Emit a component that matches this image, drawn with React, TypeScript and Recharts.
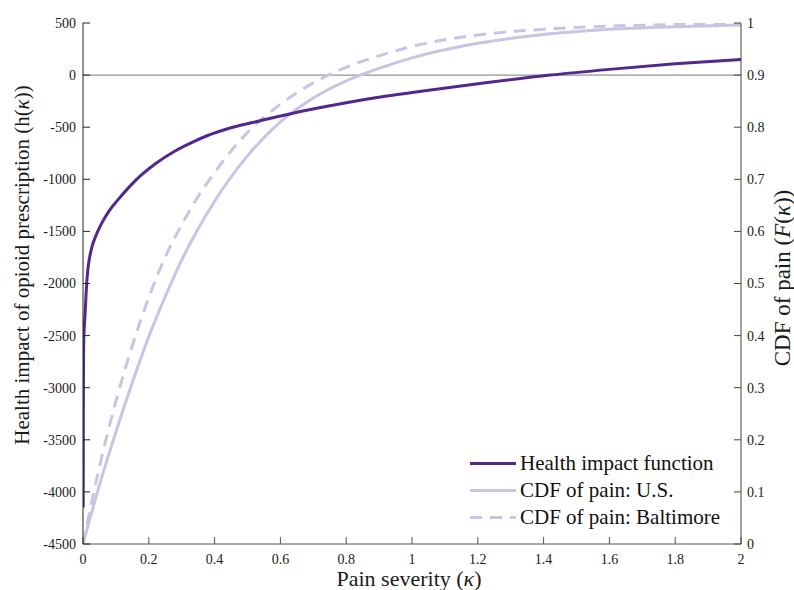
import { LineChart, Line, XAxis, YAxis, ReferenceLine, Legend, Label } from "recharts";

const PURPLE = "#54278f";
const LAVENDER = "#cbc3e3";
const SERIF = "'Liberation Serif', 'DejaVu Serif', serif";

// health impact h(kappa) against pain severity
const healthKappa = [
  0.0006, 0.001, 0.0015, 0.0024, 0.0035, 0.005, 0.0067, 0.009, 0.0116, 0.015,
  0.02, 0.027, 0.04, 0.057, 0.08, 0.108, 0.14, 0.175, 0.22, 0.276, 0.33, 0.377,
  0.45, 0.539, 0.661, 0.8, 0.904, 1.0, 1.2, 1.42, 1.6, 1.8, 2.0,
];
const healthImpact = [
  -4150, -3250, -2800, -2540, -2440, -2360, -2270, -2120, -1980, -1860,
  -1750, -1650, -1535, -1420, -1300, -1190, -1075, -965, -850, -735, -648, -582,
  -505, -438, -350, -265, -211, -168, -84, 0, 55, 108, 150,
];

// empirical CDFs of pain
const cdfKappa = [
  0, 0.05, 0.1, 0.15, 0.2, 0.25, 0.3, 0.35, 0.4, 0.5, 0.6, 0.7, 0.8, 0.9, 1.0,
  1.2, 1.4, 1.6, 1.8, 2.0,
];
const usCdf = [
  0, 0.113, 0.215, 0.31, 0.398, 0.475, 0.545, 0.605, 0.658, 0.745, 0.81, 0.856,
  0.889, 0.913, 0.933, 0.961, 0.978, 0.988, 0.993, 0.996,
];
const baltimoreCdf = [
  0, 0.148, 0.274, 0.381, 0.473, 0.551, 0.613, 0.667, 0.713, 0.79, 0.844, 0.885,
  0.915, 0.937, 0.955, 0.977, 0.988, 0.994, 0.997, 0.999,
];

const kappaTicks = [0, 0.2, 0.4, 0.6, 0.8, 1, 1.2, 1.4, 1.6, 1.8, 2];
const impactTicks = [-4500, -4000, -3500, -3000, -2500, -2000, -1500, -1000, -500, 0, 500];
const cdfTicks = [0, 0.1, 0.2, 0.3, 0.4, 0.5, 0.6, 0.7, 0.8, 0.9, 1];

const healthData = healthKappa.map((kappa, i) => ({ kappa, impact: healthImpact[i] }));
const usData = cdfKappa.map((kappa, i) => ({ kappa, cdf: usCdf[i] }));
const baltimoreData = cdfKappa.map((kappa, i) => ({ kappa, cdf: baltimoreCdf[i] }));

const legendItems = [
  { label: "Health impact function", color: PURPLE, dash: undefined },
  { label: "CDF of pain: U.S.", color: LAVENDER, dash: undefined },
  { label: "CDF of pain: Baltimore", color: LAVENDER, dash: "12 8" },
];

const tickStyle = { fontSize: 14, fill: "#1a1a1a", fontFamily: SERIF };

const PainLegend = () => (
  <div style={{ fontFamily: SERIF, fontSize: 21, color: "#111", lineHeight: "27px" }}>
    {legendItems.map((item) => (
      <div key={item.label} style={{ display: "flex", alignItems: "center", height: 27 }}>
        <svg width={50} height={27}>
          <line
            x1={2}
            x2={48}
            y1={13.5}
            y2={13.5}
            stroke={item.color}
            strokeWidth={3}
            strokeDasharray={item.dash}
          />
        </svg>
        <span style={{ marginLeft: 2, whiteSpace: "nowrap" }}>{item.label}</span>
      </div>
    ))}
  </div>
);

export default function App() {
  return (
    <div style={{ position: "absolute", left: 0, top: 0 }}>
      <LineChart
        width={794}
        height={590}
        margin={{ top: 23, right: 0, bottom: 0, left: 0 }}
        style={{ background: "#fff" }}
      >
        <XAxis
          type="number"
          dataKey="kappa"
          domain={[0, 2]}
          ticks={kappaTicks}
          allowDataOverflow
          height={46}
          stroke="#555"
          tick={tickStyle}
          tickSize={-7}
          tickMargin={17}
        >
          <Label
            content={() => (
              <text x={409} y={586} textAnchor="middle" fontSize={22} fontFamily={SERIF} fill="#1a1a1a">
                Pain severity (<tspan fontStyle="italic">κ</tspan>)
              </text>
            )}
          />
        </XAxis>
        <YAxis
          yAxisId="left"
          domain={[-4500, 500]}
          ticks={impactTicks}
          allowDataOverflow
          width={83}
          stroke="#222"
          tick={tickStyle}
          tickSize={-7}
          tickMargin={14}
        >
          <Label
            content={() => (
              <text
                transform="translate(29, 265) rotate(-90)"
                textAnchor="middle"
                fontSize={21}
                fontFamily={SERIF}
                fill="#1a1a1a"
              >
                Health impact of opioid prescription (h(<tspan fontStyle="italic">κ</tspan>))
              </text>
            )}
          />
        </YAxis>
        <YAxis
          yAxisId="right"
          orientation="right"
          domain={[0, 1]}
          ticks={cdfTicks}
          allowDataOverflow
          width={53}
          stroke="#444"
          tick={tickStyle}
          tickSize={-7}
          tickMargin={13}
        >
          <Label
            content={() => (
              <text
                transform="translate(790, 278) rotate(-90)"
                textAnchor="middle"
                fontSize={23}
                fontFamily={SERIF}
                fill="#1a1a1a"
              >
                CDF of pain (<tspan fontStyle="italic">F</tspan>(<tspan fontStyle="italic">κ</tspan>))
              </text>
            )}
          />
        </YAxis>
        <ReferenceLine yAxisId="left" y={0} stroke="#7a7a7a" strokeWidth={1} />
        <Line
          yAxisId="right"
          data={usData}
          dataKey="cdf"
          name="CDF of pain: U.S."
          type="monotone"
          stroke={LAVENDER}
          strokeWidth={3}
          dot={false}
          activeDot={false}
          isAnimationActive={false}
        />
        <Line
          yAxisId="right"
          data={baltimoreData}
          dataKey="cdf"
          name="CDF of pain: Baltimore"
          type="monotone"
          stroke={LAVENDER}
          strokeWidth={3}
          strokeDasharray="12 8"
          dot={false}
          activeDot={false}
          isAnimationActive={false}
        />
        <Line
          yAxisId="left"
          data={healthData}
          dataKey="impact"
          name="Health impact function"
          type="monotone"
          stroke={PURPLE}
          strokeWidth={3}
          dot={false}
          activeDot={false}
          isAnimationActive={false}
        />
        <Legend
          layout="vertical"
          align="center"
          verticalAlign="middle"
          content={() => <PainLegend />}
          wrapperStyle={{ left: 468, top: 450, width: 290, height: 82 }}
        />
      </LineChart>
    </div>
  );
}
